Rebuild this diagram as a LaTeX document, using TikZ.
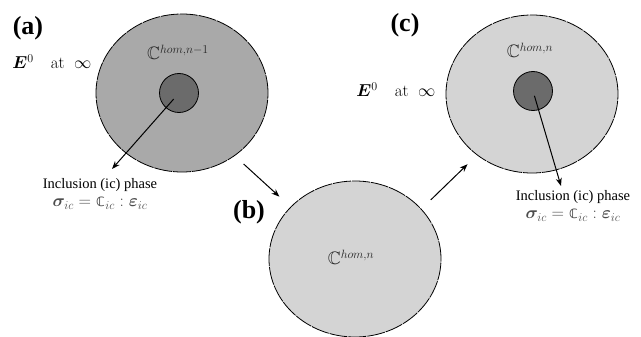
\documentclass[tikz,border=0pt]{standalone}
\usepackage{amsmath,amssymb,bm}
\usepackage{fontspec}
\newfontfamily\timesfont{Liberation Serif}
\newfontfamily\dstruck{DejaVu Sans}
\newcommand{\stiffc}{\mbox{\dstruck 𝕔}}
\usepackage{tikz}
\usetikzlibrary{arrows.meta,positioning,shapes.geometric}
\definecolor{matgray}{HTML}{A9A9A9}
\definecolor{homgray}{HTML}{D4D4D4}
\definecolor{incgray}{HTML}{6B6B6B}

\begin{document}
\begin{tikzpicture}[
  x=1pt, y=-1pt,
  phase/.style={ellipse, draw=black, line width=0.8pt,
                dash pattern=on 18pt off 1pt,
                minimum width=172pt, minimum height=158pt, inner sep=0pt},
  incl/.style={circle, draw=black, line width=0.8pt, fill=incgray,
               minimum size=39pt, inner sep=0pt},
  arrow/.style={-{Stealth[length=8pt,width=6pt]}, line width=1pt, black},
  tag/.style={font=\timesfont\bfseries\fontsize{26}{28}\selectfont, inner sep=0pt},
  note/.style={font=\timesfont\fontsize{14.5}{16}\selectfont, inner sep=0pt},
  law/.style={font=\fontsize{17}{19}\selectfont, text=black!70, inner sep=0pt},
  hom/.style={font=\fontsize{18}{20}\selectfont, text=black!85, inner sep=0pt},
  far/.style={font=\fontsize{17}{19}\selectfont, inner sep=0pt}
]
\useasboundingbox (0,0) rectangle (641,337);

% the three states
\node[phase, fill=matgray] (A) at (182,93) {};
\node[phase, fill=homgray, minimum height=156pt] (B) at (355,259) {};
\node[phase, fill=homgray] (C) at (532,94) {};

\node[incl] (IA) at (179,93) {};
\node[incl] (IC) at (533,91) {};

\node[hom] (homA) at (178,52) {$\mathbb{C}^{hom,n-1}$};
\node[hom] (homB) at (351,257) {$\mathbb{C}^{hom,n}$};
\node[hom] (homC) at (530,50) {$\mathbb{C}^{hom,n}$};

% labels
\node[tag] (labA) at (28,28) {(a)};
\node[tag] (labB) at (249,212) {(b)};
\node[tag] (labC) at (405,25) {(c)};

\node[far] (farA) at (52,62) {$\bm{E}^0\quad\mathrm{at}\;\;\infty$};
\node[far] (farC) at (396,90) {$\bm{E}^0\quad\mathrm{at}\;\;\infty$};

% inclusion notes
\node[note] (noteA) at (100,185) {Inclusion (ic) phase};
\node[law, below=5pt of noteA] (lawA) {$\bm{\sigma}_{ic}=\stiffc_{ic}:\bm{\varepsilon}_{ic}$};
\node[note] (noteC) at (573,197) {Inclusion (ic) phase};
\node[law, below=5pt of noteC] (lawC) {$\bm{\sigma}_{ic}=\stiffc_{ic}:\bm{\varepsilon}_{ic}$};

\coordinate (tipA) at (112,169);
\coordinate (tipC) at (561,186);

% arrows
\draw[arrow, shorten <=8pt] (IA.center) -- (tipA);
\draw[arrow, shorten <=5pt] (IC.center) -- (tipC);
\draw[arrow, shorten <=12pt, shorten >=15pt] (A.-50) -- (B.141);
\draw[arrow, shorten <=13pt, shorten >=13pt] (B.37) -- (C.-132);

\end{tikzpicture}
\end{document}
